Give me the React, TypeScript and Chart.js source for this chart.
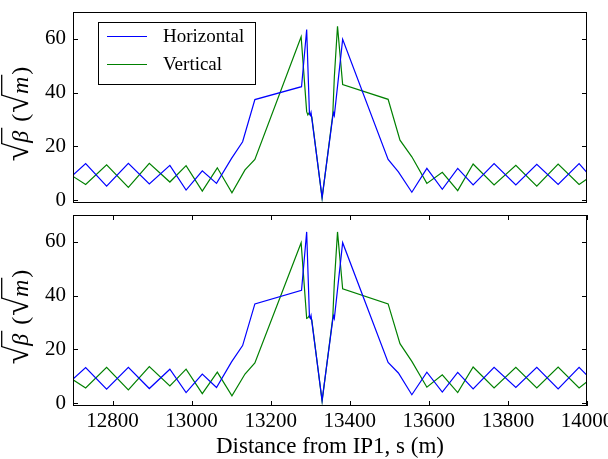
import React, { useEffect, useRef } from "react";
import { Chart, registerables } from "chart.js";

Chart.register(...registerables);

// ---- data ----
const xTicks = [12800, 13000, 13200, 13400, 13600, 13800, 14000];
const yTicks = [0, 20, 40, 60];

// Horizontal (blue) positions, s (m)
const hS = [12700, 12732, 12785, 12840, 12893, 12945, 12986, 13027, 13063, 13101, 13129, 13160, 13278, 13291, 13298, 13300, 13302, 13330, 13357, 13359, 13361, 13382, 13497, 13523, 13557, 13595, 13634, 13673, 13712, 13765, 13820, 13873, 13927, 13980, 14000];
const hTop = [9.3, 13.6, 5.2, 13.7, 6.0, 12.9, 3.7, 10.9, 6.2, 15.5, 21.7, 37.4, 42.2, 63.5, 32.2, 31.6, 32.6, 1.0, 31.0, 32.5, 31.5, 59.8, 15.1, 10.5, 2.9, 11.8, 4.0, 11.8, 5.6, 13.6, 5.6, 13.3, 5.8, 13.6, 10.2];
const hBottom = [8.9, 13.2, 5.2, 13.3, 5.4, 12.6, 3.9, 10.8, 5.8, 15.3, 21.4, 36.9, 42.0, 63.7, 32.2, 31.6, 32.6, 1.0, 31.0, 32.5, 31.5, 59.7, 15.1, 11.2, 3.1, 11.5, 4.1, 11.4, 5.3, 13.3, 5.8, 13.3, 5.3, 13.3, 10.3];

// Vertical (green) positions, s (m)
const vS = [12700, 12732, 12785, 12840, 12893, 12945, 12986, 13027, 13065, 13102, 13135, 13160, 13277, 13291, 13294, 13297, 13304, 13330, 13357, 13361, 13369, 13382, 13497, 13527, 13557, 13595, 13634, 13673, 13712, 13765, 13820, 13873, 13927, 13980, 14000];
const vTop = [8.8, 5.8, 13.1, 4.7, 13.7, 6.7, 12.8, 3.3, 12.0, 2.7, 11.2, 15.1, 60.8, 32.9, 31.7, 32.4, 30.9, 0.6, 31.8, 45.9, 64.7, 43.0, 37.5, 22.3, 16.1, 6.2, 10.3, 3.5, 13.4, 5.6, 12.9, 5.2, 13.4, 5.8, 7.8];
const vBottom = [8.7, 5.6, 13.3, 4.9, 13.6, 6.4, 12.6, 3.5, 11.5, 2.7, 10.8, 14.9, 59.7, 31.5, 31.7, 32.4, 30.9, 0.6, 31.8, 45.0, 63.7, 42.5, 36.9, 22.1, 15.5, 5.9, 10.5, 3.9, 13.4, 5.6, 13.3, 5.6, 13.4, 5.6, 7.9];

const seriesLabels = ["Horizontal", "Vertical"];
const seriesColors = ["#0000ff", "#008000"];
const xTitle = "Distance from IP1, s (m)";

const FONT = '"Liberation Serif", "DejaVu Serif", serif';

const framePlugin = {
  id: "frame",
  afterDatasetsDraw(chart: any, _a: any, opts: any) {
    const { ctx, chartArea: a } = chart;
    const ys = chart.scales.y;
    const xs = chart.scales.x;
    ctx.save();
    ctx.strokeStyle = "#000";
    ctx.lineWidth = 1;
    ctx.strokeRect(a.left + 0.5, a.top + 0.5, a.right - a.left - 1, a.bottom - a.top - 1);
    ctx.beginPath();
    const tl = 5;
    for (const v of yTicks) {
      const py = Math.round(ys.getPixelForValue(v)) + 0.5;
      ctx.moveTo(a.left, py);
      ctx.lineTo(a.left + tl, py);
      ctx.moveTo(a.right, py);
      ctx.lineTo(a.right - tl, py);
    }
    if (opts && opts.xticks) {
      for (const v of xTicks) {
        const px = Math.round(xs.getPixelForValue(v)) + 0.5;
        ctx.moveTo(px, a.bottom);
        ctx.lineTo(px, a.bottom - tl);
        ctx.moveTo(px, a.top);
        ctx.lineTo(px, a.top + tl);
      }
    }
    ctx.stroke();
    ctx.restore();
  },
};

const yTitlePlugin = {
  id: "ytitle",
  afterDraw(chart: any, _a: any, opts: any) {
    const { ctx } = chart;
    const size = 24;
    const up = `${size}px ${FONT}`;
    const it = `italic ${size}px ${FONT}`;
    const rad = `${Math.round(size * 1.4)}px ${FONT}`;
    const parts = [
      { t: "\u221A", f: rad, r: true, gap: 0 },
      { t: "\u03B2", f: it, o: true, gap: 3 },
      { t: " (", f: up, gap: 1 },
      { t: "\u221A", f: rad, r: true, gap: 0 },
      { t: "m", f: it, o: true, gap: 2 },
      { t: ")", f: up, gap: 0 },
    ];
    ctx.save();
    ctx.translate(opts.cx, opts.cy);
    ctx.rotate(-Math.PI / 2);
    ctx.fillStyle = "#000";
    ctx.strokeStyle = "#000";
    ctx.textBaseline = "alphabetic";
    let total = 0;
    const ws: number[] = [];
    for (const p of parts) {
      ctx.font = p.f;
      const w = ctx.measureText(p.t).width + p.gap;
      ws.push(w);
      total += w;
    }
    let x = -total / 2;
    const base = 0;
    let radTop = 0;
    let radEnd = 0;
    parts.forEach((p, i) => {
      ctx.font = p.f;
      ctx.fillText(p.t, x, base);
      if (p.r) {
        const m = ctx.measureText(p.t);
        radTop = base - m.actualBoundingBoxAscent;
        radEnd = x + m.actualBoundingBoxRight;
      }
      if (p.o) {
        ctx.lineWidth = 1.3;
        ctx.beginPath();
        ctx.moveTo(radEnd - 1.5, radTop + 0.7);
        ctx.lineTo(x + ws[i], radTop + 0.7);
        ctx.stroke();
      }
      x += ws[i];
    });
    ctx.restore();
  },
};

const legendPlugin = {
  id: "boxlegend",
  afterDraw(chart: any, _a: any, opts: any) {
    if (!opts || !opts.show) return;
    const { ctx } = chart;
    ctx.save();
    ctx.strokeStyle = "#000";
    ctx.lineWidth = 1;
    ctx.strokeRect(98.5, 22.5, 157, 62);
    const rows = [36.5, 64.5];
    chart.data.datasets.forEach((ds: any, i: number) => {
      ctx.strokeStyle = ds.borderColor;
      ctx.lineWidth = 1.2;
      ctx.beginPath();
      ctx.moveTo(107, rows[i]);
      ctx.lineTo(147, rows[i]);
      ctx.stroke();
      ctx.fillStyle = "#000";
      ctx.font = `19px ${FONT}`;
      ctx.textBaseline = "middle";
      ctx.fillText(ds.label, 163, rows[i] + 0.5);
    });
    ctx.restore();
  },
};

function makeConfig(hY: number[], vY: number[], bottom: boolean, cy: number): any {
  return {
    type: "line",
    data: {
      datasets: [
        {
          label: seriesLabels[0],
          data: hS.map((s, i) => ({ x: s, y: hY[i] })),
          borderColor: seriesColors[0],
          borderWidth: 1.2,
          pointRadius: 0,
          fill: false,
          tension: 0,
        },
        {
          label: seriesLabels[1],
          data: vS.map((s, i) => ({ x: s, y: vY[i] })),
          borderColor: seriesColors[1],
          borderWidth: 1.2,
          pointRadius: 0,
          fill: false,
          tension: 0,
        },
      ],
    },
    options: {
      responsive: false,
      animation: false,
      devicePixelRatio: 1,
      layout: { padding: bottom ? { left: 0, right: 21, top: 10, bottom: 0 } : { left: 0, right: 21, top: 12, bottom: 7 } },
      plugins: {
        legend: { display: false },
        tooltip: { enabled: false },
        frame: { xticks: bottom },
        ytitle: { cx: 28, cy },
        boxlegend: { show: !bottom },
      },
      scales: {
        x: {
          type: "linear",
          min: 12700,
          max: 14000,
          display: bottom,
          grid: { display: false, drawTicks: false },
          border: { display: false },
          afterBuildTicks: (s: any) => {
            s.ticks = xTicks.map((v) => ({ value: v }));
          },
          afterFit: (s: any) => {
            s.height = bottom ? 53 : 0;
            s.paddingLeft = 0;
            s.paddingRight = 0;
          },
          ticks: {
            callback: (v: any) => String(v),
            font: { family: FONT, size: 21 },
            color: "#000",
            padding: 3,
            maxRotation: 0,
            autoSkip: false,
          },
          title: {
            display: bottom,
            text: xTitle,
            font: { family: FONT, size: 23, lineHeight: 1 },
            color: "#000",
            padding: { top: 0, bottom: 1 },
          },
        },
        y: {
          type: "linear",
          min: -1.1,
          max: 70,
          grid: { display: false, drawTicks: false },
          border: { display: false },
          afterBuildTicks: (s: any) => {
            s.ticks = yTicks.map((v) => ({ value: v }));
          },
          afterFit: (s: any) => {
            s.width = 73;
            s.paddingTop = 0;
            s.paddingBottom = 0;
          },
          ticks: {
            font: { family: FONT, size: 21 },
            color: "#000",
            padding: 7,
          },
        },
      },
    },
    plugins: [framePlugin, yTitlePlugin, legendPlugin],
  };
}

export default function App() {
  const topRef = useRef<HTMLCanvasElement>(null);
  const botRef = useRef<HTMLCanvasElement>(null);
  useEffect(() => {
    const c1 = new Chart(topRef.current!, makeConfig(hTop, vTop, false, 114));
    const c2 = new Chart(botRef.current!, makeConfig(hBottom, vBottom, true, 112));
    return () => {
      c1.destroy();
      c2.destroy();
    };
  }, []);
  return (
    <div style={{ position: "fixed", left: 0, top: 0, width: 608, height: 459, background: "#fff", overflow: "hidden" }}>
      <canvas ref={topRef} width={608} height={210} style={{ position: "absolute", left: 0, top: 0, width: 608, height: 210 }} />
      <canvas ref={botRef} width={608} height={254} style={{ position: "absolute", left: 0, top: 205, width: 608, height: 254 }} />
    </div>
  );
}
